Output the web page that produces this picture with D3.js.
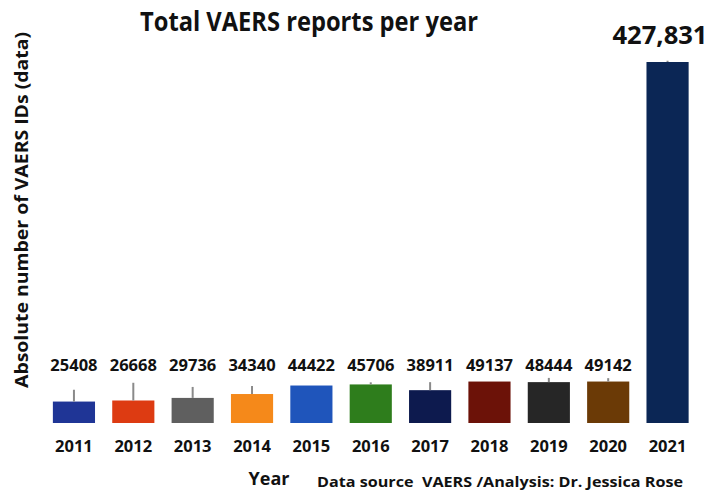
<!DOCTYPE html>
<html>
<head>
<meta charset="utf-8">
<script src="https://cdn.jsdelivr.net/npm/d3@7"></script>
<style>
  body { margin: 0; background: #fff; }
  text { font-family: "Open Sans", "Noto Sans", sans-serif; font-weight: bold; fill: #111; }
</style>
</head>
<body>
<div id="chart"></div>
<script>
// data
const years = ["2011", "2012", "2013", "2014", "2015", "2016", "2017", "2018", "2019", "2020", "2021"];
const reports = [25408, 26668, 29736, 34340, 44422, 45706, 38911, 49137, 48444, 49142, 427831];
const errorUp = [14000, 21000, 13000, 9500, 0, 2500, 9500, 0, 5000, 4000, 1500];
const barColors = ["#1f3596", "#dd3b12", "#5f5f5f", "#f5891a", "#1f55bb", "#2e7d1c",
                   "#0d1a4e", "#6c1208", "#262626", "#6b3a06", "#0b2655"];

const width = 709, height = 492;
const baseY = 423, topY = 62;

const svg = d3.select("#chart").append("svg")
  .attr("width", width)
  .attr("height", height);

const x = d3.scaleBand()
  .domain(years)
  .range([41, 700.5])
  .paddingInner(0.29)
  .paddingOuter(0.2);

const y = d3.scaleLinear()
  .domain([0, 427831])
  .range([baseY, topY]);

const rows = years.map((yr, i) => ({ year: yr, value: reports[i], err: errorUp[i], color: barColors[i] }));

// bars
svg.selectAll("rect.bar")
  .data(rows)
  .join("rect")
  .attr("class", "bar")
  .attr("x", d => x(d.year))
  .attr("y", d => y(d.value))
  .attr("width", x.bandwidth())
  .attr("height", d => baseY - y(d.value))
  .attr("fill", d => d.color);

// little error whiskers
svg.selectAll("line.err")
  .data(rows.filter(d => d.err > 0))
  .join("line")
  .attr("class", "err")
  .attr("x1", d => x(d.year) + x.bandwidth() / 2)
  .attr("x2", d => x(d.year) + x.bandwidth() / 2)
  .attr("y1", d => y(d.value))
  .attr("y2", d => y(d.value + d.err))
  .attr("stroke", "#8a8a8a")
  .attr("stroke-width", 2);

// value labels (small years all sit on one line)
svg.selectAll("text.val")
  .data(rows.slice(0, 10))
  .join("text")
  .attr("class", "val")
  .attr("x", d => x(d.year) + x.bandwidth() / 2)
  .attr("y", 371)
  .attr("text-anchor", "middle")
  .attr("font-size", 16.5)
  .text(d => d.value);

svg.append("text")
  .attr("x", 660)
  .attr("y", 44)
  .attr("text-anchor", "middle")
  .attr("font-size", 24.5)
  .attr("textLength", 95)
  .attr("lengthAdjust", "spacingAndGlyphs")
  .text(d3.format(",")(reports[10]));

// x axis labels
const xAxis = svg.append("g")
  .attr("transform", `translate(0,${baseY})`)
  .call(d3.axisBottom(x).tickSize(0).tickPadding(0));
xAxis.select(".domain").remove();
xAxis.attr("font-family", null).attr("font-size", null);
xAxis.selectAll("text")
  .attr("y", 29)
  .attr("dy", 0)
  .attr("font-size", 16.5)
  .attr("fill", "#111");

// titles
svg.append("text")
  .attr("x", 309)
  .attr("y", 31)
  .attr("text-anchor", "middle")
  .attr("font-size", 26)
  .attr("textLength", 338)
  .attr("lengthAdjust", "spacingAndGlyphs")
  .text("Total VAERS reports per year");

svg.append("text")
  .attr("transform", "translate(28,210) rotate(-90)")
  .attr("text-anchor", "middle")
  .attr("font-size", 18)
  .attr("textLength", 356)
  .attr("lengthAdjust", "spacingAndGlyphs")
  .text("Absolute number of VAERS IDs (data)");

svg.append("text")
  .attr("x", 269)
  .attr("y", 485)
  .attr("text-anchor", "middle")
  .attr("font-size", 18)
  .text("Year");

svg.append("text")
  .attr("x", 317)
  .attr("y", 487)
  .attr("font-size", 14.5)
  .attr("textLength", 366)
  .attr("lengthAdjust", "spacingAndGlyphs")
  .style("white-space", "pre")
  .text("Data source  VAERS /Analysis: Dr. Jessica Rose");
</script>
</body>
</html>
